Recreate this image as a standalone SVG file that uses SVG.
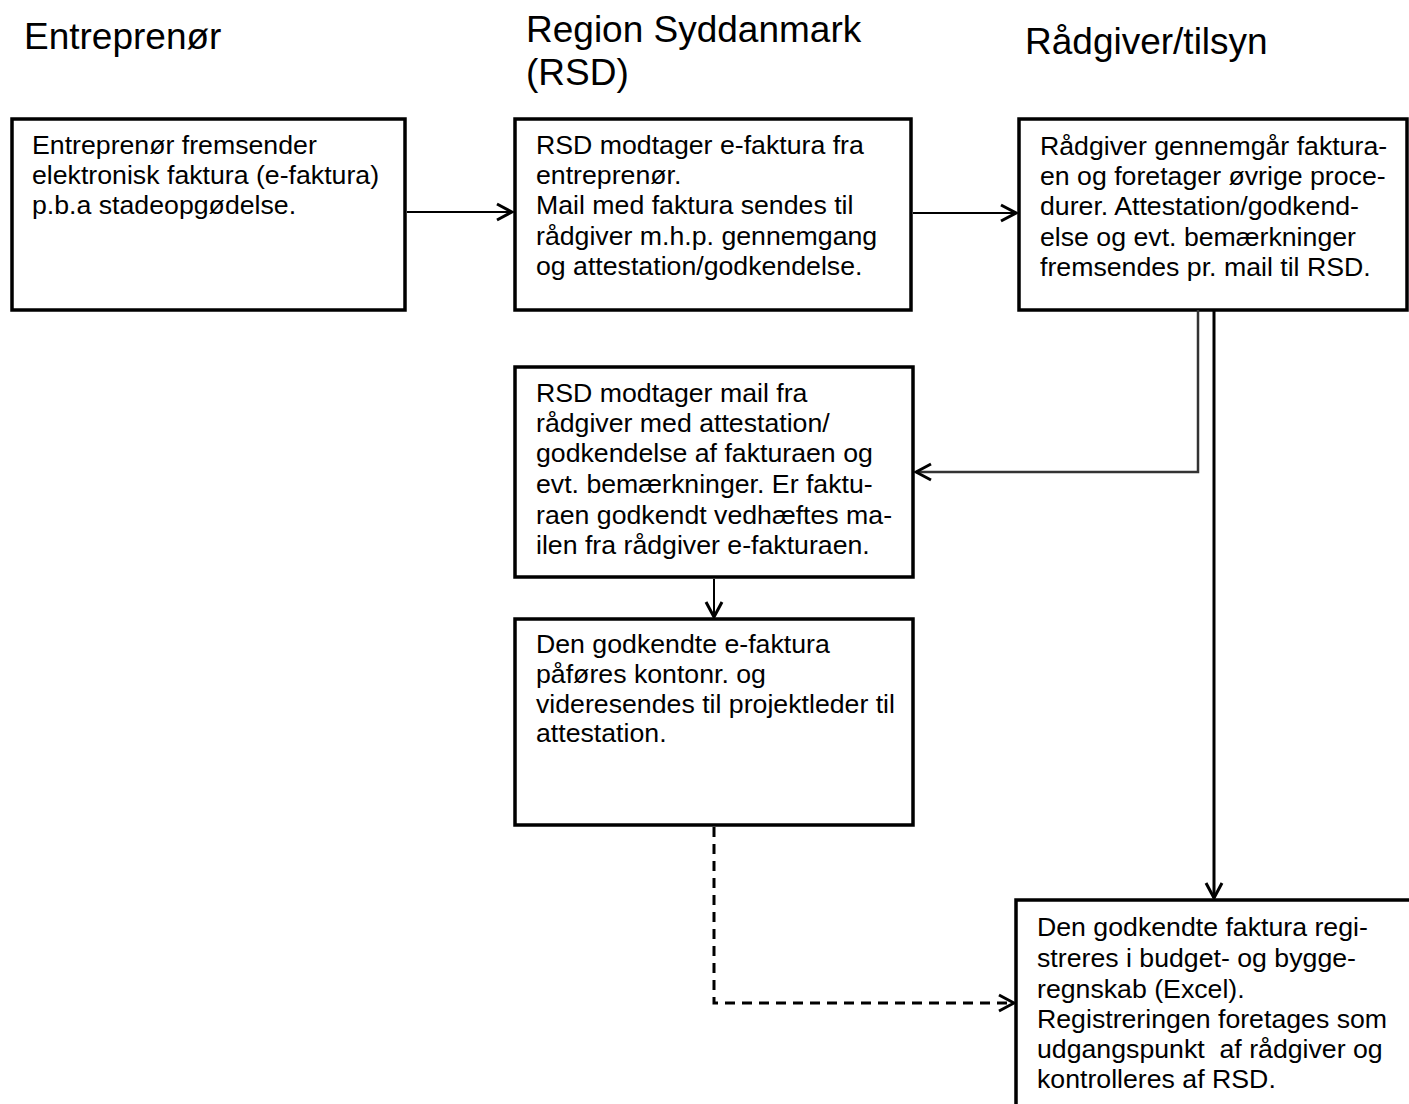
<svg xmlns="http://www.w3.org/2000/svg" width="1409" height="1104" viewBox="0 0 1409 1104">
<defs>
<style>
.box{fill:#fff;stroke:#000;stroke-width:3.5}
.t{font-family:"Liberation Sans",Arial,sans-serif;font-size:26.7px;fill:#000}
.h{font-family:"Liberation Sans",Arial,sans-serif;font-size:37px;fill:#000}
.c{fill:none;stroke:#000;stroke-width:2}
.thick{stroke-width:3}
.gray{stroke:#333;stroke-width:2.5}
.dash{stroke-width:3;stroke-dasharray:10,7}
</style>
<marker id="arr" viewBox="0 0 22 22" refX="19" refY="11" markerWidth="22" markerHeight="22" markerUnits="userSpaceOnUse" orient="auto">
<path d="M4,3 L19,11 L4,19" fill="none" stroke="#000" stroke-width="3"/>
</marker>
</defs>
<rect width="1409" height="1104" fill="#fff"/>
<g id="headers">
<text class="h" x="24" y="49">Entreprenør</text>
<text class="h" x="526" y="42">Region Syddanmark</text>
<text class="h" x="526" y="85">(RSD)</text>
<text class="h" x="1025" y="54">Rådgiver/tilsyn</text>
</g>
<g id="node1">
<rect class="box" x="12" y="119" width="393" height="191"/>
<text class="t" x="32" y="154">Entreprenør fremsender</text>
<text class="t" x="32" y="184">elektronisk faktura (e-faktura)</text>
<text class="t" x="32" y="214">p.b.a stadeopgødelse.</text>
</g>
<g id="node2">
<rect class="box" x="515" y="119" width="396" height="191"/>
<text class="t" x="536" y="154">RSD modtager e-faktura fra</text>
<text class="t" x="536" y="184">entreprenør.</text>
<text class="t" x="536" y="214">Mail med faktura sendes til</text>
<text class="t" x="536" y="245">rådgiver m.h.p. gennemgang</text>
<text class="t" x="536" y="275">og attestation/godkendelse.</text>
</g>
<g id="node3">
<rect class="box" x="1019" y="119" width="388" height="191"/>
<text class="t" x="1040" y="155">Rådgiver gennemgår faktura-</text>
<text class="t" x="1040" y="185">en og foretager øvrige proce-</text>
<text class="t" x="1040" y="215">durer. Attestation/godkend-</text>
<text class="t" x="1040" y="246">else og evt. bemærkninger</text>
<text class="t" x="1040" y="276">fremsendes pr. mail til RSD.</text>
</g>
<g id="node4">
<rect class="box" x="515" y="367" width="398" height="210"/>
<text class="t" x="536" y="402">RSD modtager mail fra</text>
<text class="t" x="536" y="432">rådgiver med attestation/</text>
<text class="t" x="536" y="462">godkendelse af fakturaen og</text>
<text class="t" x="536" y="493">evt. bemærkninger. Er faktu-</text>
<text class="t" x="536" y="524">raen godkendt vedhæftes ma-</text>
<text class="t" x="536" y="554">ilen fra rådgiver e-fakturaen.</text>
</g>
<g id="node5">
<rect class="box" x="515" y="619" width="398" height="206"/>
<text class="t" x="536" y="653">Den godkendte e-faktura</text>
<text class="t" x="536" y="683">påføres kontonr. og</text>
<text class="t" x="536" y="713">videresendes til projektleder til</text>
<text class="t" x="536" y="742">attestation.</text>
</g>
<g id="node6">
<rect class="box" x="1016" y="900" width="420" height="240"/>
<text class="t" x="1037" y="936">Den godkendte faktura regi-</text>
<text class="t" x="1037" y="967">streres i budget- og bygge-</text>
<text class="t" x="1037" y="998">regnskab (Excel).</text>
<text class="t" x="1037" y="1028">Registreringen foretages som</text>
<text class="t" x="1037" y="1058">udgangspunkt&#160; af rådgiver og</text>
<text class="t" x="1037" y="1088">kontrolleres af RSD.</text>
</g>
<g id="connectors">
<path class="c" d="M407,212 H512" marker-end="url(#arr)"/>
<path class="c" d="M913,213 H1016" marker-end="url(#arr)"/>
<path class="c gray" d="M1198,310 V472 H916" marker-end="url(#arr)"/>
<path class="c thick" d="M1214,311 V898" marker-end="url(#arr)"/>
<path class="c" d="M714,579 V617" marker-end="url(#arr)"/>
<path class="c dash" d="M714,827 V1003 H1014" marker-end="url(#arr)"/>
</g>
</svg>
